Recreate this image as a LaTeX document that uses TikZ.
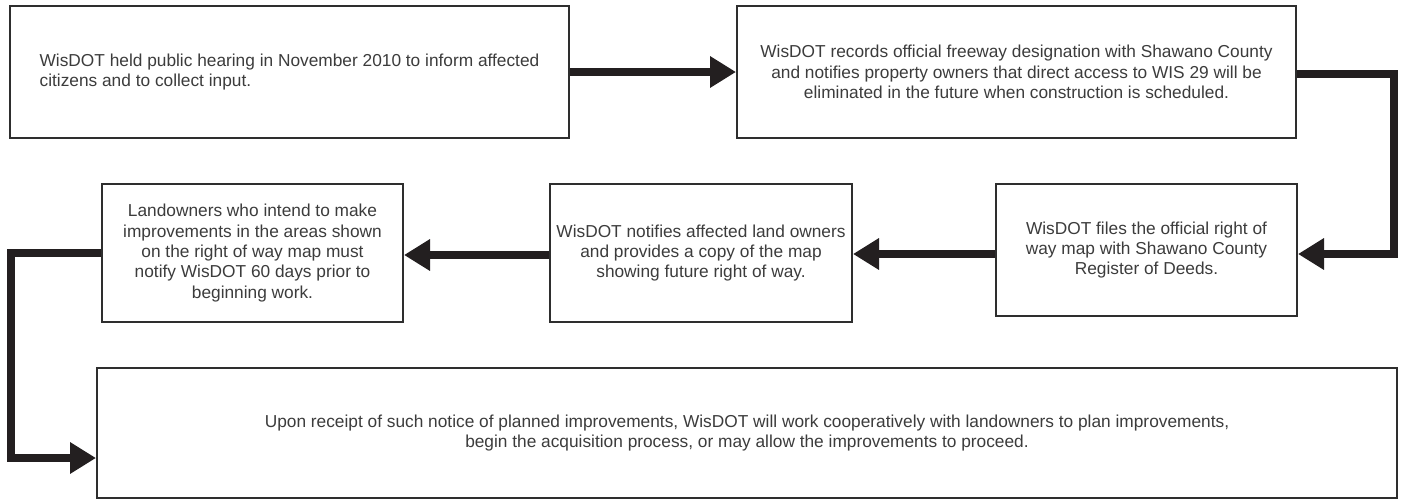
\documentclass[tikz,border=0pt]{standalone}
\usepackage{fontspec}
\setmainfont{Liberation Sans}
\usetikzlibrary{arrows.meta}
\definecolor{txt}{HTML}{3C3C3C}
\definecolor{edge}{HTML}{2E2E2E}
\definecolor{arr}{HTML}{231F20}
\begin{document}
\begin{tikzpicture}[x=1pt,y=-1pt,
  stepbox/.style={draw=edge, line width=2pt, fill=white, text=txt,
    font=\fontsize{17.3}{20.3}\selectfont, align=center, inner sep=0pt},
  flow/.style={draw=arr, line width=8.5pt, line join=miter,
    -{Triangle[length=26pt,width=30pt]}}]
\fill[white] (0,0) rectangle (1401,501);
\useasboundingbox (0,0) rectangle (1401,501);
\node[stepbox, align=left, minimum width=559pt, minimum height=132pt] (b1) at (289.5,72)
  {WisDOT held public hearing in November 2010 to inform affected\\citizens and to collect input.};
\node[stepbox, minimum width=559pt, minimum height=132pt] (b2) at (1016.5,72)
  {WisDOT records official freeway designation with Shawano County\\and notifies property owners that direct access to WIS 29 will be\\eliminated in the future when construction is scheduled.};
\node[stepbox, minimum width=301pt, minimum height=132pt] (b3) at (1146.5,250)
  {WisDOT files the official right of\\way map with Shawano County\\Register of Deeds.};
\node[stepbox, minimum width=302pt, minimum height=138pt] (b4) at (701,253)
  {WisDOT notifies affected land owners\\and provides a copy of the map\\showing future right of way.};
\node[stepbox, minimum width=301pt, minimum height=138pt] (b5) at (252.5,253)
  {Landowners who intend to make\\improvements in the areas shown\\on the right of way map must\\notify WisDOT 60 days prior to\\beginning work.};
\node[stepbox, minimum width=1300pt, minimum height=130pt] (b6) at (747,433)
  {Upon receipt of such notice of planned improvements, WisDOT will work cooperatively with landowners to plan improvements,\\begin the acquisition process, or may allow the improvements to proceed.};
\draw[flow] (b1.east) -- (b2.west);
\draw[flow] ([yshift=-2pt]b2.east) -- ++(97,0) |- ([yshift=-4pt]b3.east);
\draw[flow] ([yshift=-4pt]b3.west) -- ([yshift=-4pt]b3.west -| b4.east);
\draw[flow] ([yshift=-2pt]b4.west) -- ([yshift=-2pt]b4.west -| b5.east);
\draw[flow] (b5.west) -- ++(-90,0) |- ([yshift=-25pt]b6.west);
\end{tikzpicture}
\end{document}
